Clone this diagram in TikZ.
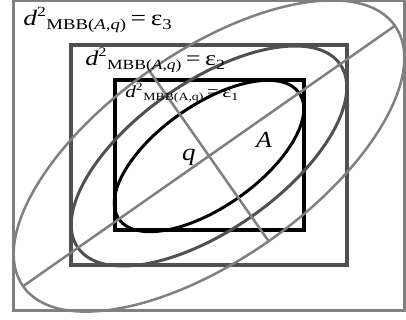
\documentclass[tikz,border=0pt]{standalone}
\usepackage{fontspec}
\setmainfont{Liberation Serif}
\usetikzlibrary{calc}
\newcommand{\fsz}[1]{\fontsize{#1}{#1}\selectfont}
% #1 main size, #2 sup size, #3 sup raise, #4 sub size, #5 sub lower, #6 index, #7 italic A,q
\newcommand{\dlab}[7]{{\fsz{#1}\textit{d}}\raisebox{#3}{\fsz{#2}2}\hspace{0.5pt}\raisebox{-#5}{\fsz{#4}MBB(#7{A},#7{q})}{\fsz{#1}\,=\,ε}\raisebox{-#5}{\fsz{#4}#6}}
\definecolor{cout}{HTML}{808080}
\definecolor{cmid}{HTML}{505050}
\tikzset{
  outbox/.style={draw=cout,line width=3pt},
  midbox/.style={draw=cmid,line width=3.3pt},
  inbox/.style={draw=black,line width=3.3pt},
  outell/.style={draw=cout,line width=2.5pt},
  midell/.style={draw=cmid,line width=3pt},
  inell/.style={draw=black,line width=3pt},
  axis/.style={draw=cout,line width=2.5pt},
  lab/.style={inner sep=0pt,anchor=base west,xscale=1.25,transform shape},
  letter/.style={inner sep=0pt,anchor=base west,xscale=1.12,transform shape}
}
\begin{document}
\begin{tikzpicture}[x=1pt,y=1pt]
\useasboundingbox (0,0) rectangle (406,320);
\fill[white] (0,0) rectangle (406,320);
\coordinate (c) at (209,164);
% rectangles
\draw[outbox] (13,9) rectangle (404,319);
\draw[midbox] (71,55) rectangle (347,275);
\draw[inbox] (115,90) rectangle (304,240);
% ellipses
\draw[outell,rotate around={35:(c)}] (c) ellipse [x radius=227,y radius=104];
\draw[midell,rotate around={35:(c)}] (c) ellipse [x radius=160,y radius=74];
\draw[inell,rotate around={35:(c)}] (c) ellipse [x radius=110,y radius=51];
% axes
\coordinate (maj1) at ($(c)+(35:227)$);
\coordinate (maj2) at ($(c)+(215:227)$);
\coordinate (min1) at ($(c)+(125:104)$);
\coordinate (min2) at ($(c)+(305:104)$);
\draw[axis] (maj2) -- (maj1);
\draw[axis] (min1) -- (min2);
% labels
\node[lab] (l3) at (23,294) {\dlab{22}{14}{9pt}{15}{4pt}{3}{\textit}};
\node[lab] (l2) at (85,254) {\dlab{21}{13}{9pt}{14}{4pt}{2}{\textit}};
\node[lab] (l1) at (125,222) {\dlab{17}{11}{7pt}{11}{3pt}{1}{\textrm}};
\node[letter] (q) at (182,159) {\fsz{24}\textit{q}};
\node[letter] (A) at (256,172) {\fsz{23}\textit{A}};
\end{tikzpicture}
\end{document}
